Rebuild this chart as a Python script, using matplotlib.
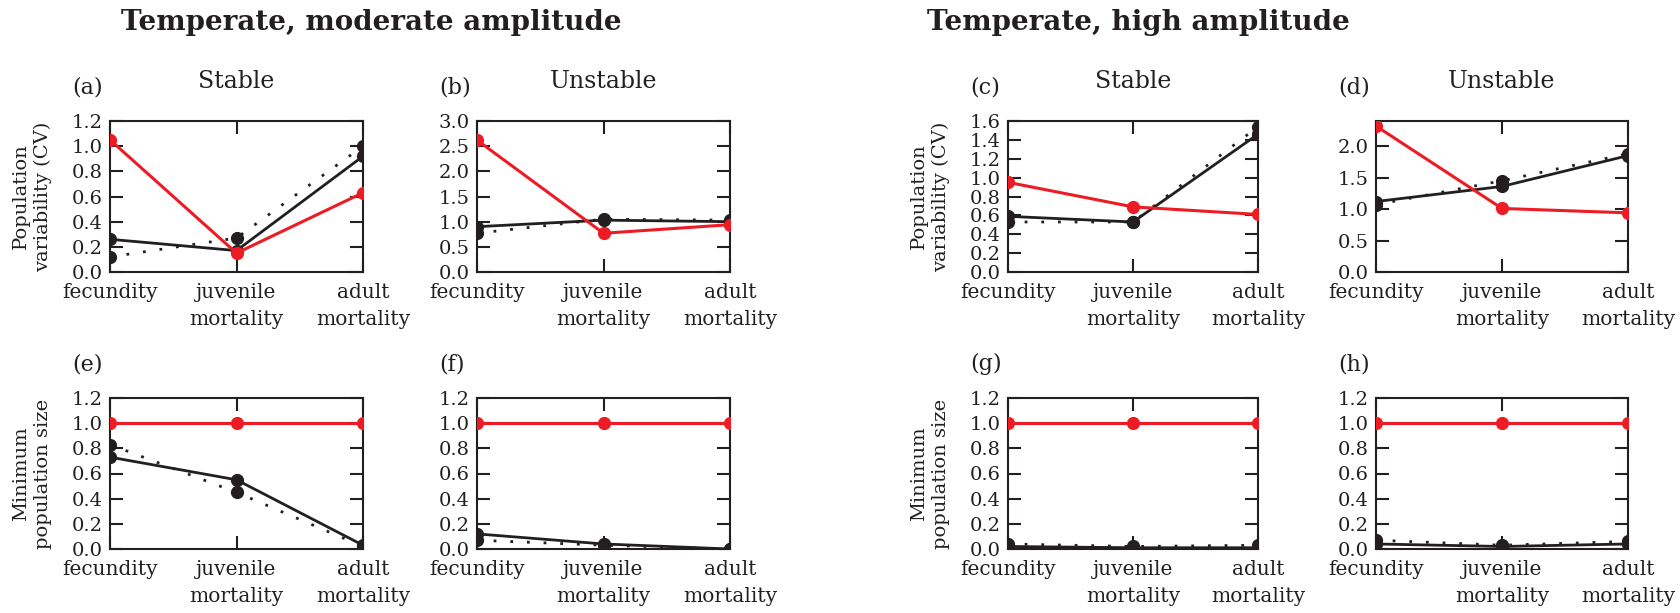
import numpy as np
import matplotlib
matplotlib.use("Agg")
import matplotlib.pyplot as plt

plt.rcParams["font.family"] = "DejaVu Serif"

RED = "#ed1c24"
BLACK = "#231f20"

categories = ["fecundity", "juvenile\nmortality", "adult\nmortality"]
panel_letters = ["(a)", "(b)", "(c)", "(d)", "(e)", "(f)", "(g)", "(h)"]
column_titles = ["Stable", "Unstable", "Stable", "Unstable"]
group_titles = ["Temperate, moderate amplitude", "Temperate, high amplitude"]

# population variability (CV), one row per column of panels
cv_red = [[1.05, 0.15, 0.63], [2.62, 0.77, 0.94], [0.95, 0.69, 0.61], [2.32, 1.01, 0.94]]
cv_solid = [[0.26, 0.17, 0.92], [0.90, 1.03, 1.00], [0.59, 0.53, 1.46], [1.12, 1.36, 1.85]]
cv_dotted = [[0.12, 0.27, 1.00], [0.77, 1.05, 1.03], [0.53, 0.53, 1.54], [1.07, 1.45, 1.88]]

# minimum population size
min_red = [[1.0, 1.0, 1.0], [1.0, 1.0, 1.0], [1.0, 1.0, 1.0], [1.0, 1.0, 1.0]]
min_solid = [[0.73, 0.55, 0.03], [0.12, 0.04, 0.0], [0.02, 0.01, 0.01], [0.04, 0.02, 0.04]]
min_dotted = [[0.83, 0.45, 0.02], [0.07, 0.03, 0.0], [0.04, 0.02, 0.03], [0.07, 0.03, 0.06]]

cv_ylims = [1.2, 3.0, 1.6, 2.4]
cv_yticks = [np.arange(0, 1.21, 0.2), np.arange(0, 3.01, 0.5),
             np.arange(0, 1.61, 0.2), np.arange(0, 2.01, 0.5)]
min_yticks = np.arange(0, 1.21, 0.2)

fig = plt.figure(figsize=(16.8, 6.13), dpi=100)

lefts = [110, 477, 1008, 1376]
widths = [253, 253, 250, 252]
W, H = 1680.0, 613.0
row_bottoms = [272, 549]
ax_h = 151


def draw_panel(ax, red, solid, dotted):
    x = np.arange(len(categories))
    ax.plot(x, dotted, color=BLACK, lw=2, ls=(0, (1, 5)), marker="o", ms=8.5, zorder=2)
    ax.plot(x, solid, color=BLACK, lw=2, marker="o", ms=8.5, zorder=3)
    ax.plot(x, red, color=RED, lw=2.2, marker="o", ms=8.5, zorder=4)
    ax.set_xlim(0, 2)
    ax.set_xticks(x)
    ax.set_xticklabels(categories, fontsize=14.5, color=BLACK, linespacing=1.5)
    ax.tick_params(direction="in", length=9.5, width=1.5, colors=BLACK,
                   top=True, right=True, labelsize=14)
    ax.tick_params(axis="x", pad=8, labelsize=14.5)
    ax.tick_params(axis="y", pad=5)
    for s in ax.spines.values():
        s.set_linewidth(1.5)
        s.set_color(BLACK)


for row in range(2):
    for col in range(4):
        rect = [lefts[col] / W, 1 - row_bottoms[row] / H, widths[col] / W, ax_h / H]
        ax = fig.add_axes(rect)
        if row == 0:
            draw_panel(ax, cv_red[col], cv_solid[col], cv_dotted[col])
            ax.set_ylim(0, cv_ylims[col])
            ax.set_yticks(cv_yticks[col])
            ax.set_title(column_titles[col], fontsize=17, color=BLACK, pad=24)
        else:
            draw_panel(ax, min_red[col], min_solid[col], min_dotted[col])
            ax.set_ylim(0, 1.2)
            ax.set_yticks(min_yticks)
        ax.yaxis.set_major_formatter(matplotlib.ticker.FormatStrFormatter("%.1f"))
        ax.text(-0.15, 1.15, panel_letters[row * 4 + col], transform=ax.transAxes,
                fontsize=16, color=BLACK, ha="left", va="bottom")
        if col in (0, 2):
            label = "Population\nvariability (CV)" if row == 0 else "Minimum\npopulation size"
            ax.set_ylabel(label, fontsize=14, color=BLACK, linespacing=1.3)
            ax.yaxis.set_label_coords(-58 / widths[col], 0.5)

fig.text(371 / W, 1 - 30 / H, group_titles[0], fontsize=20, fontweight="bold",
         color=BLACK, ha="center", va="baseline")
fig.text(1138 / W, 1 - 30 / H, group_titles[1], fontsize=20, fontweight="bold",
         color=BLACK, ha="center", va="baseline")

fig.savefig("out.png", dpi=100)
